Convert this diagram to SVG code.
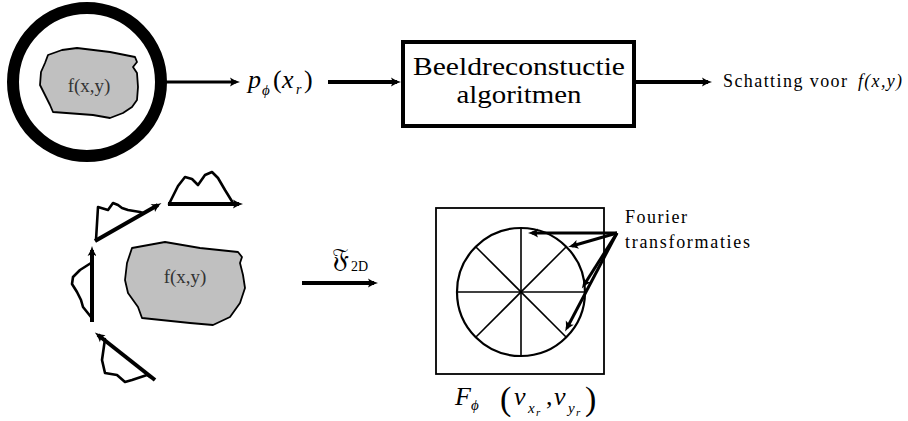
<svg xmlns="http://www.w3.org/2000/svg" width="908" height="421" viewBox="0 0 908 421">
<style>
text{font-family:'Liberation Serif','DejaVu Serif',serif}
.t{fill:#000}
.it{font-style:italic}
.ln{stroke:#000;fill:none;stroke-linejoin:round;stroke-linecap:butt}
.blob{fill:#c0c0c0;stroke:#000;stroke-width:1.8;stroke-linejoin:round}
.prof{fill:none;stroke:#000;stroke-width:2.6;stroke-linejoin:round;stroke-linecap:round}
.bt{fill:#333;font-size:19px}
</style>
<defs>
<marker id="ah" markerUnits="userSpaceOnUse" markerWidth="16" markerHeight="12" viewBox="-12 -6 14 12" refX="-4" refY="0" orient="auto" overflow="visible">
<path d="M-10,-4.5 Q-5,-1 0,0 Q-5,1 -10,4.5 Q-7.5,0 -10,-4.5 Z" fill="#000"/>
</marker>
</defs>

<g id="object-top">
<circle cx="87" cy="82" r="74" fill="#fff" stroke="#000" stroke-width="12"/>
<path class="blob" d="M48,55 L62,50 L77,48 L110,52 L135,57 L137,62 L133,67 L137,73 L138,87 L137,100 L132,107 L123,113 L110,118 L93,115 L53,112 L50,105 L45,95 L40,85 L41,72 L45,63 Z"/>
<text class="bt" x="89" y="92" text-anchor="middle">f(x,y)</text>
</g>

<g id="projection-label">
<text class="t it" x="248" y="88" font-size="26">p</text>
<text class="t it" x="262" y="95" font-size="15">ϕ</text>
<text class="t" x="273" y="88" font-size="26">(</text>
<text class="t it" x="282" y="88" font-size="26">x</text>
<text class="t it" x="296" y="94" font-size="14">r</text>
<text class="t" x="304" y="88" font-size="26">)</text>
</g>

<g id="algorithm-box">
<rect x="403" y="42" width="231" height="84" fill="#fff" stroke="#000" stroke-width="4"/>
<text class="t" x="519" y="75" font-size="25" text-anchor="middle" textLength="212" lengthAdjust="spacingAndGlyphs">Beeldreconstuctie</text>
<text class="t" x="519" y="103" font-size="25" text-anchor="middle" textLength="125" lengthAdjust="spacingAndGlyphs">algoritmen</text>
</g>

<g id="estimate-label">
<text class="t" x="723" y="87" font-size="18" textLength="124" lengthAdjust="spacing">Schatting voor</text>
<text class="t it" x="858" y="87" font-size="18" textLength="44" lengthAdjust="spacing">f(x,y)</text>
</g>

<g id="projections">
<line class="ln" x1="168" y1="204" x2="239" y2="204" stroke-width="4" marker-end="url(#ah)"/>
<path class="prof" d="M169,204 L178,186 L185,177 L192,179 L198,185 L205,175 L212,172 L218,178 L225,190 L233,203"/>
<line class="ln" x1="95" y1="241" x2="158" y2="205" stroke-width="4" marker-end="url(#ah)"/>
<path class="prof" d="M96,240 L98,207 L108,210 L113,203 L118,205 L122,208 L128,210 L140,212 L143,213"/>
<line class="ln" x1="92" y1="322" x2="92" y2="250" stroke-width="4" marker-end="url(#ah)"/>
<path class="prof" d="M91,263 L80,270 L73,277 L72,284 L77,292 L81,300 L83,307 L87,312 L91,317"/>
<line class="ln" x1="155" y1="380" x2="98" y2="335" stroke-width="4" marker-end="url(#ah)"/>
<path class="prof" d="M105,339 L102,360 L105,373 L117,375 L125,382 L132,380 L147,375 L150,377"/>
</g>

<g id="object-bottom">
<path class="blob" d="M132,248 L165,242 L200,248 L238,252 L242,257 L240,263 L243,275 L245,288 L240,303 L230,317 L213,325 L190,323 L142,318 L138,307 L128,293 L125,280 L127,263 Z"/>
<text class="bt" x="185" y="283" text-anchor="middle">f(x,y)</text>
</g>

<g id="fourier-label">
<text class="t" x="332" y="267" font-size="27">𝔉</text>
<text class="t" x="351" y="271" font-size="14">2D</text>
</g>

<g id="frequency-plane">
<rect x="436" y="208" width="168" height="166" fill="none" stroke="#000" stroke-width="1.8"/>
<circle cx="521" cy="292" r="64" fill="none" stroke="#000" stroke-width="2.2"/>
<g stroke="#000" stroke-width="1.6">
<line x1="521" y1="228" x2="521" y2="356"/>
<line x1="457" y1="292" x2="585" y2="292"/>
<line x1="475.7" y1="246.7" x2="566.3" y2="337.3"/>
<line x1="475.7" y1="337.3" x2="566.3" y2="246.7"/>
</g>
</g>

<g id="fourier-note">
<text class="t" x="625" y="223" font-size="18" textLength="62" lengthAdjust="spacing">Fourier</text>
<text class="t" x="625" y="248" font-size="18" textLength="125" lengthAdjust="spacing">transformaties</text>
</g>

<g id="spectrum-label">
<text class="t it" x="455" y="405" font-size="26">F</text>
<text class="t it" x="471" y="410" font-size="15">ϕ</text>
<text class="t" x="500" y="410" font-size="34">(</text>
<text class="t it" x="514" y="405" font-size="26">ν</text>
<text class="t it" x="528" y="413" font-size="15">x</text>
<text class="t it" x="536" y="416" font-size="11">r</text>
<text class="t" x="546" y="405" font-size="26">,</text>
<text class="t it" x="554" y="405" font-size="26">ν</text>
<text class="t it" x="568" y="413" font-size="15">y</text>
<text class="t it" x="576" y="416" font-size="11">r</text>
<text class="t" x="585" y="410" font-size="34">)</text>
</g>

<g id="connectors">
<line class="ln" x1="162" y1="82" x2="236" y2="82" stroke-width="3" marker-end="url(#ah)"/>
<line class="ln" x1="328" y1="82" x2="397" y2="82" stroke-width="4" marker-end="url(#ah)"/>
<line class="ln" x1="636" y1="82" x2="708" y2="82" stroke-width="4" marker-end="url(#ah)"/>
<line class="ln" x1="302" y1="283" x2="374" y2="283" stroke-width="4" marker-end="url(#ah)"/>
<line class="ln" x1="617" y1="233" x2="532" y2="233" stroke-width="3" marker-end="url(#ah)"/>
<line class="ln" x1="617" y1="233" x2="572" y2="246" stroke-width="3" marker-end="url(#ah)"/>
<line class="ln" x1="617" y1="233" x2="584" y2="285" stroke-width="3" marker-end="url(#ah)"/>
<line class="ln" x1="617" y1="233" x2="567" y2="328" stroke-width="3" marker-end="url(#ah)"/>
</g>
</svg>
